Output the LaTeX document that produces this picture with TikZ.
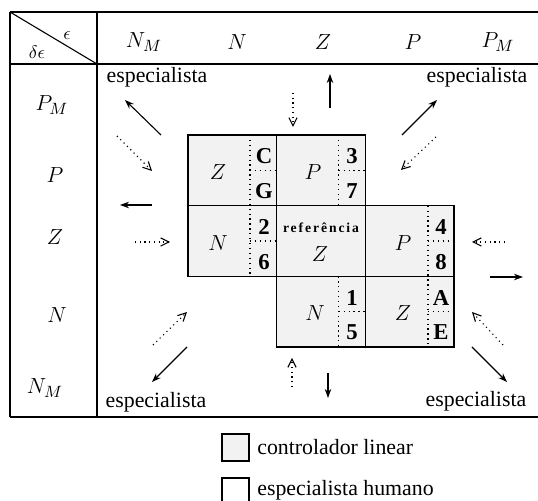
\documentclass[tikz,border=0pt]{standalone}
\usepackage{fontspec}
\setmainfont{Liberation Serif}
\usetikzlibrary{arrows.meta}

\begin{document}
\begin{tikzpicture}[
    x=0.55pt, y=-0.55pt,
    every node/.style={font=\fontsize{12}{14}\selectfont, inner sep=0pt},
    grade/.style={line width=0.8pt},
    cel/.style={draw, line width=0.7pt, fill=gray!10},
    sep/.style={dotted, line width=0.7pt},
    lbl/.style={font=\fontsize{12.5}{14}\selectfont},
    big/.style={font=\fontsize{13}{15}\selectfont},
    sub/.style={font=\fontsize{12.5}{14}\selectfont\bfseries},
    ref/.style={font=\fontsize{7.5}{9}\selectfont\bfseries\addfontfeatures{LetterSpace=14}},
    solida/.style={-{Stealth[length=5pt,width=3.6pt]}, line width=0.6pt},
    pont/.style={-{Straight Barb[length=4.5pt,width=4.5pt]}, dotted, line width=0.6pt},
  ]
  \clip (0,0) rectangle (538,501);

  % === Table frame ===
  \draw[grade] (10,12)  -- (538,12);
  \draw[grade] (10,64)  -- (538,64);
  \draw[grade] (10,417) -- (538,417);
  \draw[grade] (10,12)  -- (10,417);
  \draw[grade] (97,12)  -- (97,417);
  \draw[line width=0.6pt] (10,12) -- (97,64);
  \node[font=\fontsize{10}{12}\selectfont] (eps)  at (67,36) {$\epsilon$};
  \node[font=\fontsize{10}{12}\selectfont] (deps) at (37,52) {$\delta\epsilon$};

  % === Header: e ===
  \node[lbl] (cnm) at (144,42) {$N_M$};
  \node[lbl] (cn)  at (237,42) {$N$};
  \node[lbl] (cz)  at (323,42) {$Z$};
  \node[lbl] (cp)  at (413,42) {$P$};
  \node[lbl] (cpm) at (498,42) {$P_M$};

  % === Header: delta e ===
  \node[lbl] (rpm) at (52,105) {$P_M$};
  \node[lbl] (rp)  at (55,175) {$P$};
  \node[lbl] (rz)  at (55,237) {$Z$};
  \node[lbl] (rn)  at (57,315) {$N$};
  \node[lbl] (rnm) at (45,388) {$N_M$};

  % === Corners ===
  \node (esp1) at (157,77)  {especialista};
  \node (esp2) at (477,77)  {especialista};
  \node (esp3) at (156,402) {especialista};
  \node (esp4) at (476,401) {especialista};

  % === Cells of the linear controller ===
  \draw[cel] (188,135)     rectangle (276.7,205.7);
  \draw[cel] (276.7,135)   rectangle (365.4,205.7);
  \draw[cel] (188,205.7)   rectangle (276.7,276.4);
  \draw[cel] (276.7,205.7) rectangle (365.4,276.4);
  \draw[cel] (365.4,205.7) rectangle (454.1,276.4);
  \draw[cel] (276.7,276.4) rectangle (365.4,347.1);
  \draw[cel] (365.4,276.4) rectangle (454.1,347.1);

  % dotted splits
  \draw[sep] (250,135)   -- (250,276.4);
  \draw[sep] (250,170.4) -- (276.7,170.4);
  \draw[sep] (250,241)   -- (276.7,241);
  \draw[sep] (338.7,135)   -- (338.7,205.7);
  \draw[sep] (338.7,170.4) -- (365.4,170.4);
  \draw[sep] (338.7,276.4) -- (338.7,347.1);
  \draw[sep] (338.7,311.7) -- (365.4,311.7);
  \draw[sep] (428,205.7) -- (428,347.1);
  \draw[sep] (428,241)   -- (454.1,241);
  \draw[sep] (428,311.7) -- (454.1,311.7);

  % === Cell texts ===
  \node[big] (z1)  at (218,172) {$Z$};
  \node[sub] (c1)  at (264,156) {C};
  \node[sub] (g1)  at (264,191) {G};
  \node[big] (p1)  at (313,172) {$P$};
  \node[sub] (t3)  at (352,156) {3};
  \node[sub] (t7)  at (352,191) {7};
  \node[big] (n2)  at (218,243) {$N$};
  \node[sub] (t2)  at (264,227) {2};
  \node[sub] (t6)  at (264,262) {6};
  \node[ref] (ref) at (321,228) {referência};
  \node[big] (z2)  at (320,254) {$Z$};
  \node[big] (p2)  at (403,243) {$P$};
  \node[sub] (t4)  at (441,227) {4};
  \node[sub] (t8)  at (441,262) {8};
  \node[big] (n3)  at (315,313) {$N$};
  \node[sub] (t1)  at (352,298) {1};
  \node[sub] (t5)  at (352,332) {5};
  \node[big] (z3)  at (403,313) {$Z$};
  \node[sub] (ta)  at (441,298) {A};
  \node[sub] (te)  at (441,332) {E};

  % === Arrows ===
  \draw[solida] (161,135) -- (125,100);
  \draw[pont]   (117,136) -- (152,171);
  \draw[pont]   (293,93)  -- (293,127);
  \draw[solida] (330,108) -- (330,74);
  \draw[solida] (402,135) -- (437,100);
  \draw[pont]   (436,137) -- (401,170);
  \draw[solida] (152,205) -- (120,205);
  \draw[pont]   (135,242) -- (170,242);
  \draw[pont]   (505,242) -- (472,242);
  \draw[solida] (490,277) -- (523,277);
  \draw[pont]   (153,345) -- (187,312);
  \draw[solida] (187,347) -- (152,382);
  \draw[pont]   (292,387) -- (292,358);
  \draw[solida] (328,373) -- (328,398);
  \draw[pont]   (503,345) -- (472,312);
  \draw[solida] (472,347) -- (507,382);

  % === Legend ===
  \draw[cel] (222,434) rectangle (249,461);
  \node[anchor=west] (leg1) at (257,447) {controlador linear};
  \draw[line width=0.7pt] (222,478) rectangle (249,505);
  \node[anchor=west] (leg2) at (257,490) {especialista humano};

\end{tikzpicture}
\end{document}
